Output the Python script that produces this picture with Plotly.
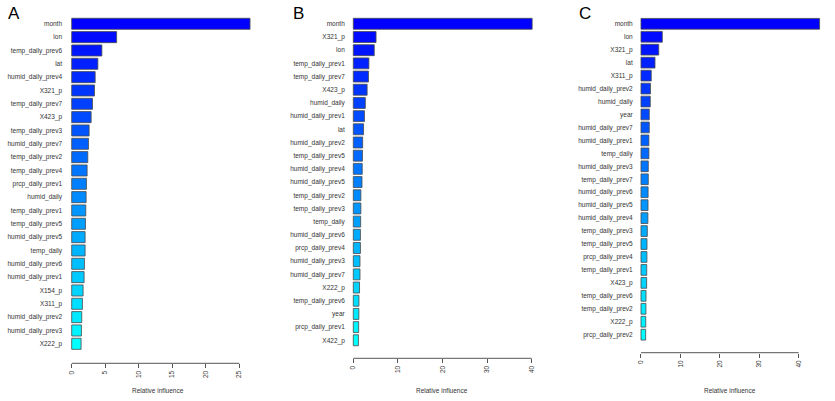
import plotly.graph_objects as go

W, H = 835, 401

# ---- data (relative influence) ----
a_vars = ["month", "lon", "temp_daily_prev6", "lat", "humid_daily_prev4", "X321_p",
          "temp_daily_prev7", "X423_p", "temp_daily_prev3", "humid_daily_prev7",
          "temp_daily_prev2", "temp_daily_prev4", "prcp_daily_prev1", "humid_daily",
          "temp_daily_prev1", "temp_daily_prev5", "humid_daily_prev5", "temp_daily",
          "humid_daily_prev6", "humid_daily_prev1", "X154_p", "X311_p",
          "humid_daily_prev2", "humid_daily_prev3", "X222_p"]
a_vals = [26.6, 6.7, 4.5, 3.9, 3.5, 3.4, 3.1, 2.9, 2.6, 2.5, 2.4, 2.3, 2.2, 2.15,
          2.1, 2.05, 2.0, 2.0, 1.9, 1.85, 1.7, 1.6, 1.5, 1.45, 1.4]

b_vars = ["month", "X321_p", "lon", "temp_daily_prev1", "temp_daily_prev7", "X423_p",
          "humid_daily", "humid_daily_prev1", "lat", "humid_daily_prev2",
          "temp_daily_prev5", "humid_daily_prev4", "humid_daily_prev5",
          "temp_daily_prev2", "temp_daily_prev3", "temp_daily", "humid_daily_prev6",
          "prcp_daily_prev4", "humid_daily_prev3", "humid_daily_prev7", "X222_p",
          "temp_daily_prev6", "year", "prcp_daily_prev1", "X422_p"]
b_vals = [40.1, 5.1, 4.7, 3.5, 3.4, 3.1, 2.7, 2.5, 2.3, 2.1, 2.05, 2.0, 1.95, 1.7,
          1.7, 1.65, 1.6, 1.6, 1.5, 1.5, 1.4, 1.27, 1.25, 1.2, 1.15]

c_vars = ["month", "lon", "X321_p", "lat", "X311_p", "humid_daily_prev2", "humid_daily",
          "year", "humid_daily_prev7", "humid_daily_prev1", "temp_daily",
          "humid_daily_prev3", "temp_daily_prev7", "humid_daily_prev6",
          "humid_daily_prev5", "humid_daily_prev4", "temp_daily_prev3",
          "temp_daily_prev5", "prcp_daily_prev4", "temp_daily_prev1", "X423_p",
          "temp_daily_prev6", "temp_daily_prev2", "X222_p", "prcp_daily_prev2"]
c_vals = [45.3, 5.4, 4.5, 3.55, 2.6, 2.4, 2.35, 2.1, 2.1, 2.0, 2.0, 1.85, 1.85, 1.8,
          1.78, 1.75, 1.6, 1.52, 1.5, 1.45, 1.43, 1.27, 1.25, 1.2, 1.18]

a_ticks = [0, 5, 10, 15, 20, 25]
b_ticks = [0, 10, 20, 30, 40]
c_ticks = [0, 10, 20, 30, 40]

# ---- layout geometry (pixels) ----
panels = [
    dict(letter="A", names=a_vars, vals=a_vals, ticks=a_ticks, x0=71.7, ppu=6.704,
         xmax=27.5, ytop=23.8, ybot=343.8, axis_y=363.3, title_x=158, letter_x=6),
    dict(letter="B", names=b_vars, vals=b_vals, ticks=b_ticks, x0=353.3, ppu=4.46,
         xmax=41.5, ytop=23.8, ybot=340.3, axis_y=358.3, title_x=441.5, letter_x=291),
    dict(letter="C", names=c_vars, vals=c_vals, ticks=c_ticks, x0=641.0, ppu=3.9425,
         xmax=46.5, ytop=23.8, ybot=334.7, axis_y=352.7, title_x=730, letter_x=577),
]

FONT = "Liberation Sans, Arial, sans-serif"
TXT = "#333333"

fig = go.Figure()
layout = dict(width=W, height=H, margin=dict(l=0, r=0, t=0, b=0, autoexpand=False),
              paper_bgcolor="white", plot_bgcolor="white", showlegend=False,
              font=dict(family=FONT, size=6.5, color=TXT), bargap=0.17)
annotations = []
shapes = []

for i, p in enumerate(panels, start=1):
    n = len(p["names"])
    colors = ["rgb(0,%d,255)" % round(255 * k / (n - 1)) for k in range(n)]
    xa = "x" if i == 1 else "x%d" % i
    ya = "y" if i == 1 else "y%d" % i
    fig.add_trace(go.Bar(
        x=p["vals"], y=p["names"], orientation="h",
        marker=dict(color=colors, line=dict(color="#4a4a4a", width=0.8)),
        xaxis=xa, yaxis=ya, hoverinfo="x+y"))

    xmin = -0.5
    left_px = p["x0"] + xmin * p["ppu"]
    right_px = p["x0"] + p["xmax"] * p["ppu"]
    spacing = (p["ybot"] - p["ytop"]) / (n - 1)
    idx_bot = (p["axis_y"] - p["ytop"]) / spacing
    top_px = p["ytop"] - 0.6 * spacing

    xkey = "xaxis" if i == 1 else "xaxis%d" % i
    ykey = "yaxis" if i == 1 else "yaxis%d" % i
    layout[xkey] = dict(
        domain=[left_px / W, right_px / W], range=[xmin, p["xmax"]], anchor=ya,
        automargin=False,
        tickvals=p["ticks"], ticktext=[str(t) for t in p["ticks"]],
        tickangle=-90, ticks="outside", ticklen=4, tickwidth=1, tickcolor="#555555",
        showline=False, showgrid=False, zeroline=False,
        tickfont=dict(family=FONT, size=6.5, color=TXT))
    layout[ykey] = dict(
        domain=[(H - p["axis_y"]) / H, (H - top_px) / H], anchor=xa,
        automargin=False,
        type="category", categoryorder="array", categoryarray=p["names"],
        range=[idx_bot, -0.6], showline=False, showgrid=False, zeroline=False,
        ticks="outside", ticklen=4, tickcolor="rgba(0,0,0,0)",
        tickfont=dict(family=FONT, size=6.5, color=TXT))

    shapes.append(dict(type="line", xref=xa, yref=ya + " domain",
                       x0=p["ticks"][0], x1=p["ticks"][-1], y0=0, y1=0,
                       line=dict(color="#555555", width=1)))
    annotations.append(dict(text="Relative influence", xref="paper", yref="paper",
                            x=p["title_x"] / W, y=(H - 390) / H, xanchor="center",
                            yanchor="middle", showarrow=False,
                            font=dict(family=FONT, size=6.5, color=TXT)))
    annotations.append(dict(text=p["letter"], xref="paper", yref="paper",
                            x=p["letter_x"] / W, y=(H - 2) / H, xanchor="left",
                            yanchor="top", showarrow=False,
                            font=dict(family=FONT, size=17, color="black")))

layout["annotations"] = annotations
layout["shapes"] = shapes
fig.update_layout(**layout)
fig.write_html("out.html", config={"displayModeBar": False},
               post_script="document.body.style.margin='0px';")
